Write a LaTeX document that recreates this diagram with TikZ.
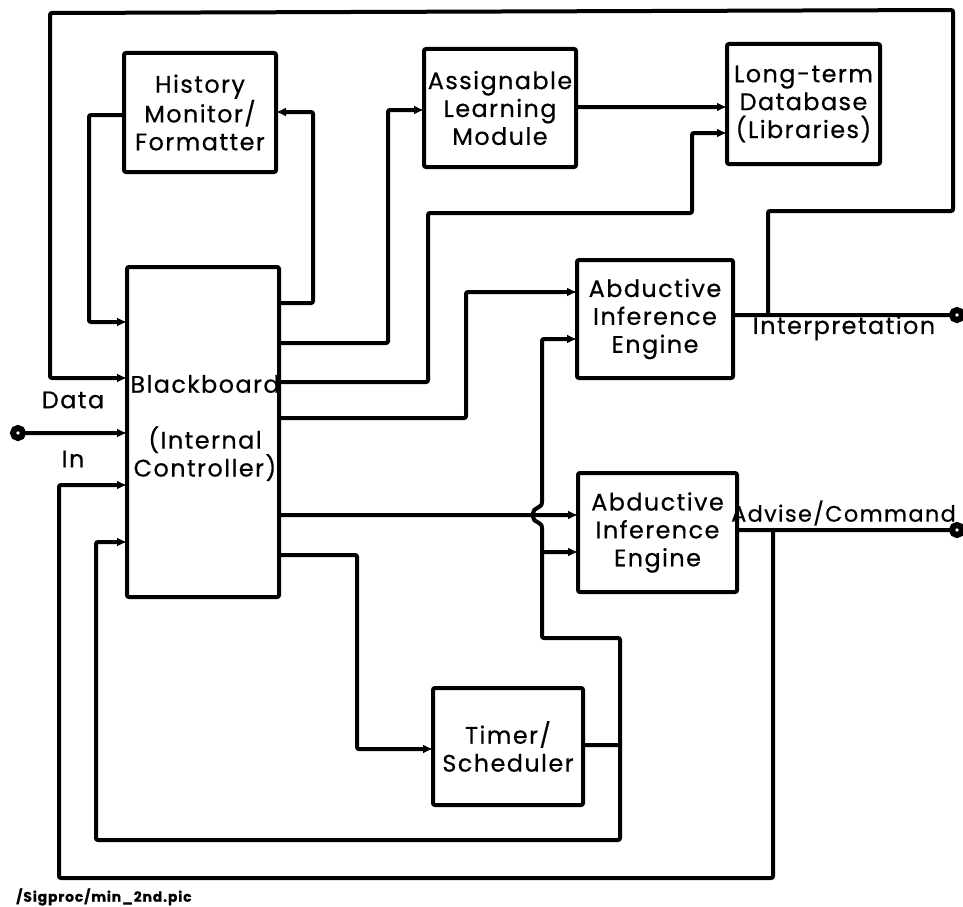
\documentclass[tikz,border=0pt]{standalone}
\usepackage{fontspec}
\setmainfont{Poppins}[LetterSpace=6, FakeBold=0.5]
\usetikzlibrary{arrows.meta}
\tikzset{
  blk/.style={draw, line width=4bp, rounded corners=2bp, outer sep=0pt, inner sep=0pt, align=center,
    font=\fontsize{24}{28}\selectfont},
  wire/.style={line width=4bp, rounded corners=2bp},
  arr/.style={wire, -{Latex[length=10bp,width=9bp]}},
  port/.style={circle, draw, line width=6bp, minimum size=10bp, inner sep=0pt, fill=white, outer sep=0pt},
  lbl/.style={font=\fontsize{24}{28}\selectfont, inner sep=0pt},
}
\begin{document}
\begin{tikzpicture}[x=1bp,y=-1bp]
\useasboundingbox (0,0) rectangle (963,907);
% blocks
\node[blk, minimum width=152bp, minimum height=119bp] (HM) at (200,112.5) {History\\Monitor/\\Formatter};
\node[blk, minimum width=152bp, minimum height=118bp] (ALM) at (500,108) {Assignable\\Learning\\Module};
\node[blk, minimum width=153bp, minimum height=120bp] (LTD) at (803.5,104) {Long-term\\Database\\(Libraries)};
\node[blk, minimum width=152bp, minimum height=330bp] (BB) at (203,432) {};
\node[lbl, align=center] (BBT) at (205,428) {Blackboard\\[28bp](Internal\\Controller)};
\node[blk, minimum width=156bp, minimum height=118bp] (AE1) at (655,319) {Abductive\\Inference\\Engine};
\node[blk, minimum width=159bp, minimum height=119bp] (AE2) at (657.5,532.5) {Abductive\\Inference\\Engine};
\node[blk, minimum width=150bp, minimum height=117bp] (TS) at (508,746.5) {Timer/\\Scheduler};
% ports
\node[port] (O0) at (18,433) {};
\node[port] (O1) at (957,315) {};
\node[port] (O2) at (957,530) {};
\coordinate (J1) at (768,315);
\coordinate (J3) at (773,530);
\coordinate (T1) at (620,745);
\coordinate (J2) at (542,552);
% labels
\node[lbl] (LData) at (73,400) {Data};
\node[lbl] (LIn) at (73,459) {In};
\node[lbl] (LInt) at (844,328) {Interpretation};
\node[lbl, anchor=west, font=\fontsize{22.5}{28}\selectfont] (LAdv) at (731,513) {Advise/Command};
\node[font=\fontsize{14}{16}\selectfont\bfseries, anchor=west, inner sep=0pt] (FT) at (16,897) {/Sigproc/min\_2nd.pic};
% connectors
\draw[arr] (J1) -- (768,211) -- (953,211) -- (953,10) -- (50,13) -- (50,378) -- ([yshift=-111bp]BB.north west);
\draw[arr] ([yshift=-62bp]HM.north west) -- ++(-35,0) |- ([yshift=-55bp]BB.north west);
\draw[arr] ([yshift=-36bp]BB.north east) -- ++(34,0) |- ([yshift=-59bp]HM.north east);
\draw[arr] ([yshift=-76bp]BB.north east) -- ++(109,0) |- ([yshift=-61bp]ALM.north west);
\draw[arr] ([yshift=-58bp]ALM.north east) -- ([yshift=-63bp]LTD.north west);
\draw[arr] ([yshift=-115bp]BB.north east) -| (428,213) -| (692,133) -- ([yshift=-89bp]LTD.north west);
\draw[arr] ([yshift=-151bp]BB.north east) -| (466,292) -- ([yshift=-32bp]AE1.north west);
\draw[arr] ([yshift=-248bp]BB.north east) -- ([yshift=-42bp]AE2.north west);
\draw[arr] ([yshift=-288bp]BB.north east) -- ++(78,0) |- ([yshift=-61bp]TS.north west);
\draw[wire] ([yshift=-57bp]TS.north east) -- (T1);
\draw[arr] (T1) -- (620,638) -- (542,638) -- (542,530) .. controls (542,521) and (533,523) .. (533,515) .. controls (533,507) and (542,509) .. (542,500) -- (542,339) -- ([yshift=-79bp]AE1.north west);
\draw[arr] (J2) -- ([yshift=-79bp]AE2.north west);
\draw[arr] (T1) -- (620,840) -- (96,840) -- (96,542) -- ([yshift=-275bp]BB.north west);
\draw[wire] ([yshift=-55bp]AE1.north east) -- (O1);
\draw[wire] ([yshift=-57bp]AE2.north east) -- (O2);
\draw[arr] (J3) -- (773,878) -- (59,878) -- (59,485) -- ([yshift=-218bp]BB.north west);
\draw[arr] (O0) -- ([yshift=-166bp]BB.north west);
\end{tikzpicture}
\end{document}
